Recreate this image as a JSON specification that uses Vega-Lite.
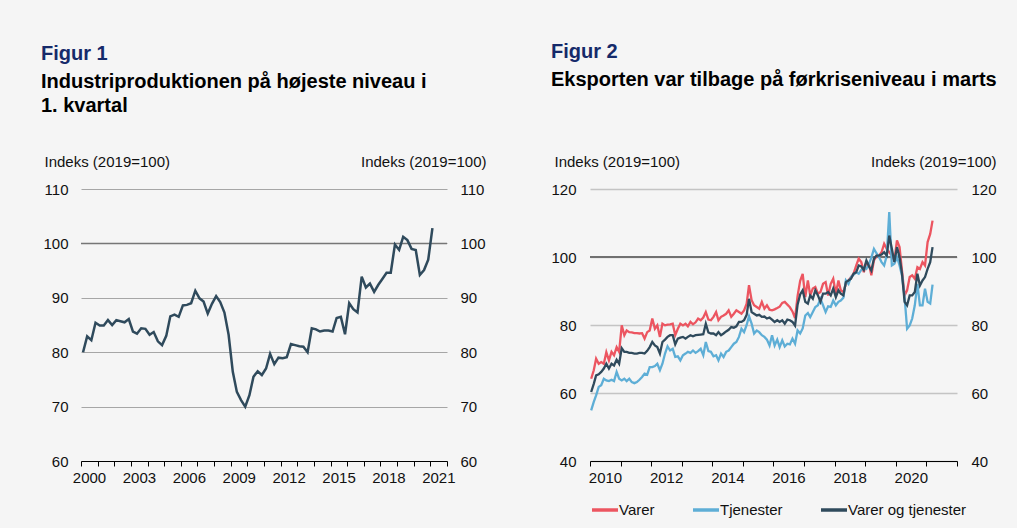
{
  "$schema": "https://vega.github.io/schema/vega-lite/v6.json",
  "background": "#f5f5f5",
  "padding": {"left": 40, "top": 42, "right": 20, "bottom": 10},
  "config": {
    "font": "Liberation Sans",
    "view": {"stroke": null},
    "axis": {"labelFont": "Liberation Sans", "labelFontSize": 15, "labelColor": "#111111", "titleFont": "Liberation Sans", "titleFontSize": 15, "titleFontWeight": "normal", "titleColor": "#111111"},
    "title": {"anchor": "start", "frame": "bounds", "font": "Liberation Sans", "fontSize": 20, "fontWeight": "bold", "color": "#152a6a", "subtitleFont": "Liberation Sans", "subtitleFontSize": 20, "subtitleFontWeight": "bold", "subtitleColor": "#000000", "subtitleLineHeight": 24.5, "subtitlePadding": 8},
    "legend": {"labelFont": "Liberation Sans", "labelFontSize": 15, "labelColor": "#111111"}
  },
  "bounds": "flush",
  "spacing": 143,
  "resolve": {"scale": {"color": "independent"}, "legend": {"color": "independent"}},
  "hconcat": [
    {
      "width": 366,
      "height": 272,
      "title": {"text": "Figur 1", "subtitle": ["Industriproduktionen på højeste niveau i", "1. kvartal"], "dx": -2, "offset": 38},
      "layer": [
        {
          "data": {"values": [{"ref": 100}]},
          "mark": {"type": "rule", "color": "#767676", "strokeWidth": 1.5},
          "encoding": {
            "y": {"field": "ref", "type": "quantitative", "scale": {"domain": [60, 110]},
              "axis": {"orient": "right", "values": [60, 70, 80, 90, 100, 110], "grid": false, "domain": false, "ticks": false, "labelPadding": 13,
                "title": "Indeks (2019=100)", "titleAngle": 0, "titleAlign": "right", "titleBaseline": "middle", "titleX": 39, "titleY": -28}}
          }
        },
        {
          "data": {"values": [
            {"d":"2000/02/15","v":80.0},{"d":"2000/05/15","v":82.9},{"d":"2000/08/15","v":82.2},{"d":"2000/11/15","v":85.4},
            {"d":"2001/02/15","v":84.9},{"d":"2001/05/15","v":84.9},{"d":"2001/08/15","v":85.9},{"d":"2001/11/15","v":85.0},
            {"d":"2002/02/15","v":85.9},{"d":"2002/05/15","v":85.7},{"d":"2002/08/15","v":85.5},{"d":"2002/11/15","v":86.1},
            {"d":"2003/02/15","v":83.8},{"d":"2003/05/15","v":83.4},{"d":"2003/08/15","v":84.4},{"d":"2003/11/15","v":84.3},
            {"d":"2004/02/15","v":83.2},{"d":"2004/05/15","v":83.7},{"d":"2004/08/15","v":82.0},{"d":"2004/11/15","v":81.3},
            {"d":"2005/02/15","v":83.0},{"d":"2005/05/15","v":86.6},{"d":"2005/08/15","v":86.9},{"d":"2005/11/15","v":86.5},
            {"d":"2006/02/15","v":88.6},{"d":"2006/05/15","v":88.7},{"d":"2006/08/15","v":89.0},{"d":"2006/11/15","v":91.3},
            {"d":"2007/02/15","v":89.9},{"d":"2007/05/15","v":89.3},{"d":"2007/08/15","v":87.1},{"d":"2007/11/15","v":88.9},
            {"d":"2008/02/15","v":90.3},{"d":"2008/05/15","v":89.2},{"d":"2008/08/15","v":87.3},{"d":"2008/11/15","v":83.2},
            {"d":"2009/02/15","v":76.4},{"d":"2009/05/15","v":72.7},{"d":"2009/08/15","v":71.2},{"d":"2009/11/15","v":70.0},
            {"d":"2010/02/15","v":72.1},{"d":"2010/05/15","v":75.5},{"d":"2010/08/15","v":76.5},{"d":"2010/11/15","v":75.8},
            {"d":"2011/02/15","v":77.0},{"d":"2011/05/15","v":79.7},{"d":"2011/08/15","v":77.8},{"d":"2011/11/15","v":79.0},
            {"d":"2012/02/15","v":78.9},{"d":"2012/05/15","v":79.1},{"d":"2012/08/15","v":81.5},{"d":"2012/11/15","v":81.3},
            {"d":"2013/02/15","v":81.1},{"d":"2013/05/15","v":81.0},{"d":"2013/08/15","v":80.0},{"d":"2013/11/15","v":84.4},
            {"d":"2014/02/15","v":84.2},{"d":"2014/05/15","v":83.8},{"d":"2014/08/15","v":84.0},{"d":"2014/11/15","v":84.0},
            {"d":"2015/02/15","v":83.8},{"d":"2015/05/15","v":86.3},{"d":"2015/08/15","v":86.5},{"d":"2015/11/15","v":83.3},
            {"d":"2016/02/15","v":89.0},{"d":"2016/05/15","v":87.9},{"d":"2016/08/15","v":87.3},{"d":"2016/11/15","v":93.9},
            {"d":"2017/02/15","v":91.9},{"d":"2017/05/15","v":92.6},{"d":"2017/08/15","v":91.1},{"d":"2017/11/15","v":92.4},
            {"d":"2018/02/15","v":93.5},{"d":"2018/05/15","v":94.6},{"d":"2018/08/15","v":94.6},{"d":"2018/11/15","v":99.8},
            {"d":"2019/02/15","v":98.8},{"d":"2019/05/15","v":101.2},{"d":"2019/08/15","v":100.6},{"d":"2019/11/15","v":99.0},
            {"d":"2020/02/15","v":98.8},{"d":"2020/05/15","v":94.2},{"d":"2020/08/15","v":95.1},{"d":"2020/11/15","v":97.0},
            {"d":"2021/02/15","v":102.8}
          ]},
          "mark": {"type": "line", "color": "#2f4a5c", "strokeWidth": 2.5},
          "encoding": {
            "x": {"field": "d", "type": "temporal",
              "scale": {"domain": [{"year": 2000, "month": 1, "date": 1}, {"year": 2022, "month": 1, "date": 1}]},
              "axis": {"title": null, "grid": false, "domain": true, "domainColor": "#000000", "ticks": true, "tickColor": "#000000", "tickSize": 5,
                "values": [{"year":2000},{"year":2001},{"year":2002},{"year":2003},{"year":2004},{"year":2005},{"year":2006},{"year":2007},{"year":2008},{"year":2009},{"year":2010},{"year":2011},{"year":2012},{"year":2013},{"year":2014},{"year":2015},{"year":2016},{"year":2017},{"year":2018},{"year":2019},{"year":2020},{"year":2021},{"year":2022}],
                "labelExpr": "year(datum.value) % 3 == 2 ? timeFormat(datum.value, '%Y') : ''",
                "labelOffset": 8, "labelFlush": false, "labelOverlap": false, "labelBound": false, "labelPadding": 4}},
            "y": {"field": "v", "type": "quantitative", "scale": {"domain": [60, 110]},
              "axis": {"orient": "left", "values": [60, 70, 80, 90, 100, 110], "grid": true, "gridColor": "#a6a6a6", "gridWidth": 1, "domain": false, "ticks": false, "labelPadding": 13,
                "title": "Indeks (2019=100)", "titleAngle": 0, "titleAlign": "left", "titleBaseline": "middle", "titleX": -37, "titleY": -28}}
          }
        }
      ],
      "resolve": {"axis": {"y": "independent"}}
    },
    {
      "width": 367,
      "height": 272,
      "title": {"text": "Figur 2", "subtitle": ["Eksporten var tilbage på førkriseniveau i marts"], "dx": 0, "offset": 64},
      "layer": [
        {
          "data": {"values": [{"ref": 100}]},
          "mark": {"type": "rule", "color": "#707070", "strokeWidth": 2},
          "encoding": {
            "y": {"field": "ref", "type": "quantitative", "scale": {"domain": [40, 120]},
              "axis": {"orient": "right", "values": [40, 60, 80, 100, 120], "grid": false, "domain": false, "ticks": false, "labelPadding": 14,
                "title": "Indeks (2019=100)", "titleAngle": 0, "titleAlign": "right", "titleBaseline": "middle", "titleX": 39, "titleY": -28}}
          }
        },
        {
          "data": {"values": [
            {"d":"2010/01/15","Varer":64.2,"Tjenester":54.9,"Varer og tjenester":60.3},
            {"d":"2010/02/15","Varer":66.7,"Tjenester":57.4,"Varer og tjenester":62.7},
            {"d":"2010/03/15","Varer":70.1,"Tjenester":59.3,"Varer og tjenester":65.2},
            {"d":"2010/04/15","Varer":68.6,"Tjenester":61.8,"Varer og tjenester":65.5},
            {"d":"2010/05/15","Varer":69.1,"Tjenester":62.3,"Varer og tjenester":66.2},
            {"d":"2010/06/15","Varer":68.6,"Tjenester":64.2,"Varer og tjenester":67.2},
            {"d":"2010/07/15","Varer":72.0,"Tjenester":63.7,"Varer og tjenester":68.6},
            {"d":"2010/08/15","Varer":69.6,"Tjenester":63.5,"Varer og tjenester":67.2},
            {"d":"2010/09/15","Varer":72.1,"Tjenester":63.9,"Varer og tjenester":68.6},
            {"d":"2010/10/15","Varer":71.1,"Tjenester":63.5,"Varer og tjenester":68.1},
            {"d":"2010/11/15","Varer":73.5,"Tjenester":66.2,"Varer og tjenester":69.8},
            {"d":"2010/12/15","Varer":72.1,"Tjenester":64.2,"Varer og tjenester":68.6},
            {"d":"2011/01/15","Varer":79.9,"Tjenester":63.7,"Varer og tjenester":73.2},
            {"d":"2011/02/15","Varer":77.0,"Tjenester":64.2,"Varer og tjenester":72.1},
            {"d":"2011/03/15","Varer":78.4,"Tjenester":63.5,"Varer og tjenester":72.1},
            {"d":"2011/04/15","Varer":77.9,"Tjenester":64.2,"Varer og tjenester":71.8},
            {"d":"2011/05/15","Varer":77.8,"Tjenester":63.2,"Varer og tjenester":71.8},
            {"d":"2011/06/15","Varer":77.6,"Tjenester":62.9,"Varer og tjenester":71.6},
            {"d":"2011/07/15","Varer":77.6,"Tjenester":63.2,"Varer og tjenester":71.6},
            {"d":"2011/08/15","Varer":77.5,"Tjenester":63.9,"Varer og tjenester":71.8},
            {"d":"2011/09/15","Varer":77.6,"Tjenester":64.7,"Varer og tjenester":71.8},
            {"d":"2011/10/15","Varer":76.0,"Tjenester":65.7,"Varer og tjenester":71.6},
            {"d":"2011/11/15","Varer":77.9,"Tjenester":65.4,"Varer og tjenester":72.4},
            {"d":"2011/12/15","Varer":78.4,"Tjenester":67.6,"Varer og tjenester":73.5},
            {"d":"2012/01/15","Varer":81.9,"Tjenester":67.6,"Varer og tjenester":75.0},
            {"d":"2012/02/15","Varer":78.9,"Tjenester":67.9,"Varer og tjenester":74.0},
            {"d":"2012/03/15","Varer":79.9,"Tjenester":68.6,"Varer og tjenester":73.5},
            {"d":"2012/04/15","Varer":76.5,"Tjenester":66.7,"Varer og tjenester":71.6},
            {"d":"2012/05/15","Varer":80.4,"Tjenester":68.6,"Varer og tjenester":75.0},
            {"d":"2012/06/15","Varer":79.9,"Tjenester":71.6,"Varer og tjenester":75.7},
            {"d":"2012/07/15","Varer":80.1,"Tjenester":73.7,"Varer og tjenester":76.5},
            {"d":"2012/08/15","Varer":80.2,"Tjenester":72.5,"Varer og tjenester":77.0},
            {"d":"2012/09/15","Varer":80.4,"Tjenester":73.0,"Varer og tjenester":77.0},
            {"d":"2012/10/15","Varer":77.0,"Tjenester":70.6,"Varer og tjenester":74.3},
            {"d":"2012/11/15","Varer":78.9,"Tjenester":70.8,"Varer og tjenester":76.0},
            {"d":"2012/12/15","Varer":80.4,"Tjenester":69.6,"Varer og tjenester":76.3},
            {"d":"2013/01/15","Varer":79.9,"Tjenester":71.1,"Varer og tjenester":76.5},
            {"d":"2013/02/15","Varer":80.4,"Tjenester":71.6,"Varer og tjenester":76.0},
            {"d":"2013/03/15","Varer":79.6,"Tjenester":72.1,"Varer og tjenester":76.5},
            {"d":"2013/04/15","Varer":80.9,"Tjenester":71.8,"Varer og tjenester":77.0},
            {"d":"2013/05/15","Varer":80.2,"Tjenester":72.5,"Varer og tjenester":76.7},
            {"d":"2013/06/15","Varer":80.8,"Tjenester":71.8,"Varer og tjenester":77.0},
            {"d":"2013/07/15","Varer":81.9,"Tjenester":72.3,"Varer og tjenester":77.1},
            {"d":"2013/08/15","Varer":81.4,"Tjenester":73.0,"Varer og tjenester":77.2},
            {"d":"2013/09/15","Varer":82.2,"Tjenester":71.1,"Varer og tjenester":77.3},
            {"d":"2013/10/15","Varer":83.8,"Tjenester":75.0,"Varer og tjenester":80.4},
            {"d":"2013/11/15","Varer":81.6,"Tjenester":72.3,"Varer og tjenester":77.8},
            {"d":"2013/12/15","Varer":81.4,"Tjenester":72.1,"Varer og tjenester":77.5},
            {"d":"2014/01/15","Varer":82.4,"Tjenester":70.8,"Varer og tjenester":77.5},
            {"d":"2014/02/15","Varer":83.8,"Tjenester":71.1,"Varer og tjenester":77.0},
            {"d":"2014/03/15","Varer":81.4,"Tjenester":69.6,"Varer og tjenester":77.9},
            {"d":"2014/04/15","Varer":82.4,"Tjenester":71.6,"Varer og tjenester":77.0},
            {"d":"2014/05/15","Varer":82.8,"Tjenester":70.6,"Varer og tjenester":77.5},
            {"d":"2014/06/15","Varer":83.3,"Tjenester":72.1,"Varer og tjenester":78.1},
            {"d":"2014/07/15","Varer":84.3,"Tjenester":72.5,"Varer og tjenester":78.6},
            {"d":"2014/08/15","Varer":82.4,"Tjenester":73.5,"Varer og tjenester":79.4},
            {"d":"2014/09/15","Varer":83.3,"Tjenester":74.5,"Varer og tjenester":79.2},
            {"d":"2014/10/15","Varer":84.3,"Tjenester":75.0,"Varer og tjenester":79.6},
            {"d":"2014/11/15","Varer":83.8,"Tjenester":76.5,"Varer og tjenester":80.9},
            {"d":"2014/12/15","Varer":83.3,"Tjenester":78.9,"Varer og tjenester":80.9},
            {"d":"2015/01/15","Varer":84.3,"Tjenester":77.9,"Varer og tjenester":81.4},
            {"d":"2015/02/15","Varer":86.3,"Tjenester":80.0,"Varer og tjenester":83.0},
            {"d":"2015/03/15","Varer":91.7,"Tjenester":82.6,"Varer og tjenester":87.7},
            {"d":"2015/04/15","Varer":87.3,"Tjenester":80.4,"Varer og tjenester":83.8},
            {"d":"2015/05/15","Varer":85.8,"Tjenester":77.5,"Varer og tjenester":83.3},
            {"d":"2015/06/15","Varer":85.3,"Tjenester":78.4,"Varer og tjenester":82.8},
            {"d":"2015/07/15","Varer":84.8,"Tjenester":77.9,"Varer og tjenester":83.0},
            {"d":"2015/08/15","Varer":86.8,"Tjenester":77.0,"Varer og tjenester":82.4},
            {"d":"2015/09/15","Varer":84.8,"Tjenester":76.5,"Varer og tjenester":82.5},
            {"d":"2015/10/15","Varer":85.8,"Tjenester":75.7,"Varer og tjenester":81.9},
            {"d":"2015/11/15","Varer":84.5,"Tjenester":74.0,"Varer og tjenester":82.2},
            {"d":"2015/12/15","Varer":84.3,"Tjenester":77.0,"Varer og tjenester":81.6},
            {"d":"2016/01/15","Varer":84.6,"Tjenester":74.0,"Varer og tjenester":80.9},
            {"d":"2016/02/15","Varer":85.0,"Tjenester":75.7,"Varer og tjenester":81.4},
            {"d":"2016/03/15","Varer":85.4,"Tjenester":73.5,"Varer og tjenester":80.9},
            {"d":"2016/04/15","Varer":86.5,"Tjenester":75.5,"Varer og tjenester":81.4},
            {"d":"2016/05/15","Varer":86.8,"Tjenester":73.7,"Varer og tjenester":80.4},
            {"d":"2016/06/15","Varer":86.0,"Tjenester":74.5,"Varer og tjenester":81.6},
            {"d":"2016/07/15","Varer":85.2,"Tjenester":74.3,"Varer og tjenester":81.4},
            {"d":"2016/08/15","Varer":84.0,"Tjenester":76.0,"Varer og tjenester":80.9},
            {"d":"2016/09/15","Varer":82.0,"Tjenester":74.5,"Varer og tjenester":79.8},
            {"d":"2016/10/15","Varer":88.5,"Tjenester":78.4,"Varer og tjenester":86.0},
            {"d":"2016/11/15","Varer":93.0,"Tjenester":77.5,"Varer og tjenester":89.0},
            {"d":"2016/12/15","Varer":95.0,"Tjenester":79.0,"Varer og tjenester":90.2},
            {"d":"2017/01/15","Varer":88.2,"Tjenester":82.8,"Varer og tjenester":86.8},
            {"d":"2017/02/15","Varer":93.1,"Tjenester":83.5,"Varer og tjenester":86.3},
            {"d":"2017/03/15","Varer":88.7,"Tjenester":82.3,"Varer og tjenester":88.7},
            {"d":"2017/04/15","Varer":90.7,"Tjenester":83.8,"Varer og tjenester":87.7},
            {"d":"2017/05/15","Varer":91.2,"Tjenester":85.3,"Varer og tjenester":90.2},
            {"d":"2017/06/15","Varer":89.2,"Tjenester":85.8,"Varer og tjenester":88.7},
            {"d":"2017/07/15","Varer":89.7,"Tjenester":87.7,"Varer og tjenester":86.8},
            {"d":"2017/08/15","Varer":92.1,"Tjenester":85.8,"Varer og tjenester":89.2},
            {"d":"2017/09/15","Varer":92.6,"Tjenester":83.8,"Varer og tjenester":89.2},
            {"d":"2017/10/15","Varer":88.7,"Tjenester":85.5,"Varer og tjenester":89.7},
            {"d":"2017/11/15","Varer":92.1,"Tjenester":85.3,"Varer og tjenester":88.7},
            {"d":"2017/12/15","Varer":93.6,"Tjenester":87.2,"Varer og tjenester":90.7},
            {"d":"2018/01/15","Varer":89.2,"Tjenester":85.8,"Varer og tjenester":88.2},
            {"d":"2018/02/15","Varer":93.1,"Tjenester":86.8,"Varer og tjenester":90.2},
            {"d":"2018/03/15","Varer":90.2,"Tjenester":87.2,"Varer og tjenester":89.2},
            {"d":"2018/04/15","Varer":89.7,"Tjenester":88.0,"Varer og tjenester":88.7},
            {"d":"2018/05/15","Varer":92.1,"Tjenester":93.1,"Varer og tjenester":92.6},
            {"d":"2018/06/15","Varer":93.1,"Tjenester":92.1,"Varer og tjenester":93.1},
            {"d":"2018/07/15","Varer":94.1,"Tjenester":94.1,"Varer og tjenester":93.6},
            {"d":"2018/08/15","Varer":95.1,"Tjenester":94.8,"Varer og tjenester":95.1},
            {"d":"2018/09/15","Varer":97.5,"Tjenester":95.5,"Varer og tjenester":95.5},
            {"d":"2018/10/15","Varer":99.5,"Tjenester":95.1,"Varer og tjenester":97.5},
            {"d":"2018/11/15","Varer":98.5,"Tjenester":96.2,"Varer og tjenester":97.2},
            {"d":"2018/12/15","Varer":95.5,"Tjenester":97.0,"Varer og tjenester":96.2},
            {"d":"2019/01/15","Varer":98.5,"Tjenester":96.5,"Varer og tjenester":99.0},
            {"d":"2019/02/15","Varer":98.0,"Tjenester":98.0,"Varer og tjenester":97.2},
            {"d":"2019/03/15","Varer":94.6,"Tjenester":99.8,"Varer og tjenester":96.0},
            {"d":"2019/04/15","Varer":99.0,"Tjenester":102.4,"Varer og tjenester":99.5},
            {"d":"2019/05/15","Varer":100.2,"Tjenester":101.1,"Varer og tjenester":100.4},
            {"d":"2019/06/15","Varer":100.4,"Tjenester":100.0,"Varer og tjenester":100.4},
            {"d":"2019/07/15","Varer":101.4,"Tjenester":98.5,"Varer og tjenester":100.7},
            {"d":"2019/08/15","Varer":103.9,"Tjenester":97.5,"Varer og tjenester":101.4},
            {"d":"2019/09/15","Varer":102.4,"Tjenester":100.4,"Varer og tjenester":100.4},
            {"d":"2019/10/15","Varer":101.4,"Tjenester":113.2,"Varer og tjenester":106.3},
            {"d":"2019/11/15","Varer":100.4,"Tjenester":97.5,"Varer og tjenester":102.4},
            {"d":"2019/12/15","Varer":99.0,"Tjenester":98.0,"Varer og tjenester":98.5},
            {"d":"2020/01/15","Varer":104.9,"Tjenester":100.0,"Varer og tjenester":102.9},
            {"d":"2020/02/15","Varer":102.9,"Tjenester":97.5,"Varer og tjenester":100.0},
            {"d":"2020/03/15","Varer":96.0,"Tjenester":94.6,"Varer og tjenester":95.1},
            {"d":"2020/04/15","Varer":88.7,"Tjenester":88.2,"Varer og tjenester":86.8},
            {"d":"2020/05/15","Varer":90.2,"Tjenester":78.9,"Varer og tjenester":85.8},
            {"d":"2020/06/15","Varer":94.1,"Tjenester":79.9,"Varer og tjenester":88.7},
            {"d":"2020/07/15","Varer":94.6,"Tjenester":81.9,"Varer og tjenester":88.7},
            {"d":"2020/08/15","Varer":93.6,"Tjenester":85.8,"Varer og tjenester":89.7},
            {"d":"2020/09/15","Varer":97.0,"Tjenester":92.1,"Varer og tjenester":95.1},
            {"d":"2020/10/15","Varer":96.5,"Tjenester":85.8,"Varer og tjenester":91.6},
            {"d":"2020/11/15","Varer":98.5,"Tjenester":85.8,"Varer og tjenester":93.1},
            {"d":"2020/12/15","Varer":97.5,"Tjenester":90.7,"Varer og tjenester":94.1},
            {"d":"2021/01/15","Varer":104.4,"Tjenester":86.8,"Varer og tjenester":96.5},
            {"d":"2021/02/15","Varer":106.8,"Tjenester":86.3,"Varer og tjenester":98.5},
            {"d":"2021/03/15","Varer":110.7,"Tjenester":91.9,"Varer og tjenester":102.9}
          ]},
          "transform": [{"fold": ["Varer", "Tjenester", "Varer og tjenester"], "as": ["serie", "v"]}],
          "mark": {"type": "line", "strokeWidth": 2.3},
          "encoding": {
            "x": {"field": "d", "type": "temporal",
              "scale": {"domain": [{"year": 2010, "month": 1, "date": 1}, {"year": 2022, "month": 1, "date": 1}]},
              "axis": {"title": null, "grid": false, "domain": true, "domainColor": "#000000", "ticks": true, "tickColor": "#000000", "tickSize": 5,
                "values": [{"year":2010},{"year":2011},{"year":2012},{"year":2013},{"year":2014},{"year":2015},{"year":2016},{"year":2017},{"year":2018},{"year":2019},{"year":2020},{"year":2021},{"year":2022}],
                "labelExpr": "year(datum.value) % 2 == 0 && year(datum.value) < 2022 ? timeFormat(datum.value, '%Y') : ''",
                "labelOffset": 15, "labelFlush": false, "labelOverlap": false, "labelBound": false, "labelPadding": 4}},
            "y": {"field": "v", "type": "quantitative", "scale": {"domain": [40, 120]},
              "axis": {"orient": "left", "values": [40, 60, 80, 100, 120], "grid": true, "gridColor": "#c4c4c4", "gridWidth": 1.5, "domain": false, "ticks": false, "labelPadding": 14,
                "title": "Indeks (2019=100)", "titleAngle": 0, "titleAlign": "left", "titleBaseline": "middle", "titleX": -36, "titleY": -28}},
            "color": {"field": "serie", "type": "nominal",
              "scale": {"domain": ["Varer", "Tjenester", "Varer og tjenester"], "range": ["#ec5560", "#5eaed6", "#2f4a5c"]},
              "legend": {"orient": "bottom", "direction": "horizontal", "title": null, "symbolType": "stroke", "symbolSize": 676, "symbolStrokeWidth": 3.5, "labelOffset": -1, "columnPadding": 31, "offset": 10}}
          }
        }
      ],
      "resolve": {"axis": {"y": "independent"}}
    }
  ]
}
